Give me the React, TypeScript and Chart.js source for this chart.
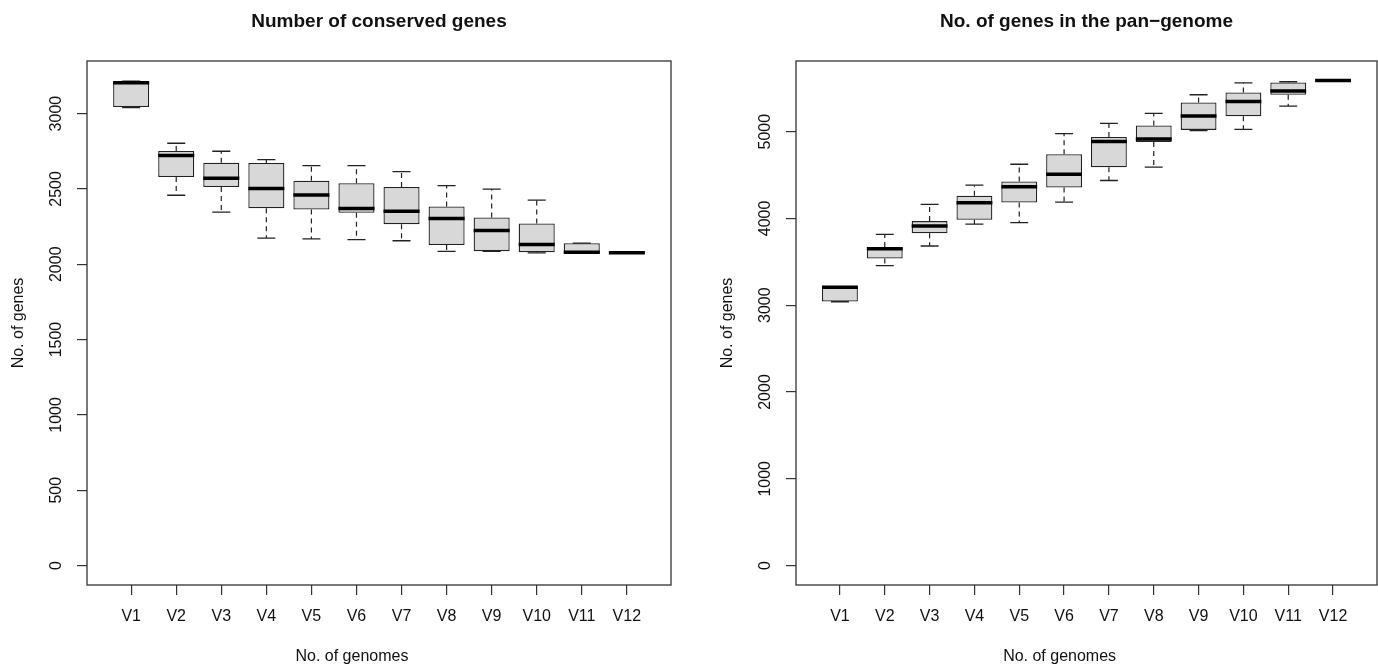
import React, { useEffect, useRef } from 'react';
import { Chart, registerables } from 'chart.js';

Chart.register(...registerables);

const FONT = '"Liberation Sans", Arial, Helvetica, sans-serif';

// ---- data ----
const CATEGORIES = ['V1', 'V2', 'V3', 'V4', 'V5', 'V6', 'V7', 'V8', 'V9', 'V10', 'V11', 'V12'];

// Number of conserved genes (core genome)
const CONS_MIN = [3040, 2458, 2346, 2173, 2169, 2164, 2156, 2085, 2085, 2076, 2072, 2077];
const CONS_Q1 = [3043, 2579, 2513, 2372, 2363, 2341, 2266, 2127, 2087, 2079, 2072, 2077];
const CONS_MED = [3205, 2721, 2571, 2502, 2460, 2370, 2352, 2303, 2224, 2131, 2080, 2077];
const CONS_Q3 = [3210, 2752, 2674, 2672, 2555, 2538, 2513, 2383, 2310, 2270, 2140, 2077];
const CONS_MAX = [3215, 2803, 2750, 2694, 2654, 2654, 2615, 2522, 2498, 2425, 2140, 2077];

// Number of genes in the pan-genome
const PAN_MIN = [3040, 3456, 3682, 3935, 3951, 4187, 4437, 4590, 5011, 5026, 5295, 5590];
const PAN_Q1 = [3043, 3537, 3828, 3985, 4184, 4356, 4590, 4882, 5020, 5176, 5425, 5590];
const PAN_MED = [3207, 3651, 3912, 4180, 4364, 4509, 4885, 4916, 5180, 5348, 5468, 5590];
const PAN_Q3 = [3212, 3670, 3969, 4261, 4425, 4739, 4939, 5072, 5337, 5452, 5567, 5590];
const PAN_MAX = [3215, 3816, 4161, 4383, 4624, 4977, 5095, 5210, 5425, 5563, 5575, 5590];

const CONS_Y_TICKS = [0, 500, 1000, 1500, 2000, 2500, 3000];
const PAN_Y_TICKS = [0, 1000, 2000, 3000, 4000, 5000];
const CONS_Y_LIMITS = [-129, 3349];
const PAN_Y_LIMITS = [-224, 5814];
const X_LIMITS = [0.02, 12.98];
const X_TITLE_AT = 5.9;

const CONS_TITLE = 'Number of conserved genes';
const PAN_TITLE = 'No. of genes in the pan\u2212genome';
const X_TITLE = 'No. of genomes';
const Y_TITLE = 'No. of genes';

const rDecorations = {
  id: 'rDecorations',
  afterDraw(chart: any, _args: any, opts: any) {
    const { ctx, chartArea: a, scales } = chart;
    ctx.save();
    ctx.strokeStyle = '#333';
    ctx.lineWidth = 1.3;
    ctx.strokeRect(a.left, a.top, a.right - a.left, a.bottom - a.top);
    ctx.fillStyle = '#111';
    ctx.font = `16px ${FONT}`;
    ctx.textAlign = 'center';
    ctx.textBaseline = 'middle';
    const ys = scales.y;
    for (const t of ys.ticks) {
      const py = ys.getPixelForValue(t.value);
      ctx.save();
      ctx.translate(a.left - 30, py);
      ctx.rotate(-Math.PI / 2);
      ctx.fillText(String(t.value), 0, 0);
      ctx.restore();
    }
    const xs = scales.x;
    ctx.fillText(opts.xTitle, xs.getPixelForValue(opts.xTitleAt), opts.xTitleY);
    ctx.restore();
  },
};

type PanelProps = {
  left: number;
  width: number;
  areaLeft: number;
  padRight: number;
  yTitlePad: number;
  title: string;
  mins: number[];
  q1s: number[];
  meds: number[];
  q3s: number[];
  maxs: number[];
  yLimits: number[];
  yTicks: number[];
};

function BoxPanel(p: PanelProps) {
  const ref = useRef<HTMLCanvasElement>(null);
  useEffect(() => {
    const xs = CATEGORIES.map((_, i) => i + 1);
    const gridOpts = {
      display: true,
      drawOnChartArea: false,
      drawTicks: true,
      tickLength: 10,
      color: '#333',
      lineWidth: 1.2,
      offset: false,
    };
    const chart = new Chart(ref.current as HTMLCanvasElement, {
      type: 'bar',
      data: {
        datasets: [
          {
            type: 'line',
            label: 'median',
            data: xs.flatMap((x, i) => [
              { x: x - 0.4, y: p.meds[i] },
              { x: x + 0.4, y: p.meds[i] },
              { x, y: null },
            ]),
            borderColor: '#000',
            borderWidth: 3.5,
            borderCapStyle: 'butt',
            pointRadius: 0,
            spanGaps: false,
            order: 0,
          } as any,
          {
            type: 'line',
            label: 'caps',
            data: xs.flatMap((x, i) => [
              { x: x - 0.2, y: p.maxs[i] },
              { x: x + 0.2, y: p.maxs[i] },
              { x, y: null },
              { x: x - 0.2, y: p.mins[i] },
              { x: x + 0.2, y: p.mins[i] },
              { x, y: null },
            ]),
            borderColor: '#222',
            borderWidth: 1.3,
            pointRadius: 0,
            spanGaps: false,
            order: 1,
          } as any,
          {
            type: 'line',
            label: 'whiskers',
            data: xs.flatMap((x, i) => [
              { x, y: p.q3s[i] },
              { x, y: p.maxs[i] },
              { x, y: null },
              { x, y: p.q1s[i] },
              { x, y: p.mins[i] },
              { x, y: null },
            ]),
            borderColor: '#222',
            borderWidth: 1.2,
            borderDash: [5, 4],
            pointRadius: 0,
            spanGaps: false,
            order: 2,
          } as any,
          {
            type: 'bar',
            label: 'box',
            data: xs.map((x, i) => ({ x, y: [p.q1s[i], p.q3s[i]] })),
            backgroundColor: '#d8d8d8',
            borderColor: '#222',
            borderWidth: 1.3,
            borderSkipped: false,
            barPercentage: 0.8,
            categoryPercentage: 1,
            order: 3,
          } as any,
        ],
      },
      options: {
        responsive: false,
        maintainAspectRatio: false,
        devicePixelRatio: 1,
        animation: false,
        layout: { padding: { left: 0, right: p.padRight, top: 0, bottom: 0 } },
        plugins: {
          legend: { display: false },
          tooltip: { enabled: false },
          title: {
            display: true,
            text: p.title,
            color: '#111',
            font: { family: FONT, size: 19, weight: 'bold' },
            padding: { top: 10.6, bottom: 27.6 },
            fullSize: false,
          },
          rDecorations: { xTitle: X_TITLE, xTitleAt: X_TITLE_AT, xTitleY: 657 },
        } as any,
        scales: {
          x: {
            type: 'linear',
            min: X_LIMITS[0],
            max: X_LIMITS[1],
            offset: false,
            afterBuildTicks: (s: any) => {
              s.ticks = xs.map((v) => ({ value: v }));
            },
            afterFit: (s: any) => {
              s.height = 80;
            },
            ticks: {
              autoSkip: false,
              maxRotation: 0,
              minRotation: 0,
              padding: 12,
              color: '#111',
              font: { family: FONT, size: 16 },
              callback: (v: any) => CATEGORIES[Math.round(Number(v)) - 1] ?? '',
            },
            grid: gridOpts,
            border: { display: false },
          },
          y: {
            type: 'linear',
            min: p.yLimits[0],
            max: p.yLimits[1],
            afterBuildTicks: (s: any) => {
              s.ticks = p.yTicks.map((v) => ({ value: v }));
            },
            afterFit: (s: any) => {
              s.width = p.areaLeft;
            },
            ticks: { display: false },
            grid: gridOpts,
            border: { display: false },
            title: {
              display: true,
              text: Y_TITLE,
              color: '#111',
              font: { family: FONT, size: 16 },
              padding: { top: p.yTitlePad, bottom: 0 },
            },
          },
        } as any,
      },
      plugins: [rDecorations as any],
    });
    return () => chart.destroy();
  }, []);
  return (
    <canvas
      ref={ref}
      width={p.width}
      height={665}
      style={{ position: 'absolute', left: p.left, top: 0, width: p.width, height: 665, display: 'block' }}
    />
  );
}

export default function App() {
  return (
    <div style={{ position: 'absolute', left: 0, top: 0, width: 1378, height: 665, overflow: 'hidden', background: '#fff' }}>
      <BoxPanel
        left={0}
        width={689}
        areaLeft={87}
        padRight={18}
        yTitlePad={9}
        title={CONS_TITLE}
        mins={CONS_MIN}
        q1s={CONS_Q1}
        meds={CONS_MED}
        q3s={CONS_Q3}
        maxs={CONS_MAX}
        yLimits={CONS_Y_LIMITS}
        yTicks={CONS_Y_TICKS}
      />
      <BoxPanel
        left={689}
        width={689}
        areaLeft={107}
        padRight={1}
        yTitlePad={29}
        title={PAN_TITLE}
        mins={PAN_MIN}
        q1s={PAN_Q1}
        meds={PAN_MED}
        q3s={PAN_Q3}
        maxs={PAN_MAX}
        yLimits={PAN_Y_LIMITS}
        yTicks={PAN_Y_TICKS}
      />
    </div>
  );
}
